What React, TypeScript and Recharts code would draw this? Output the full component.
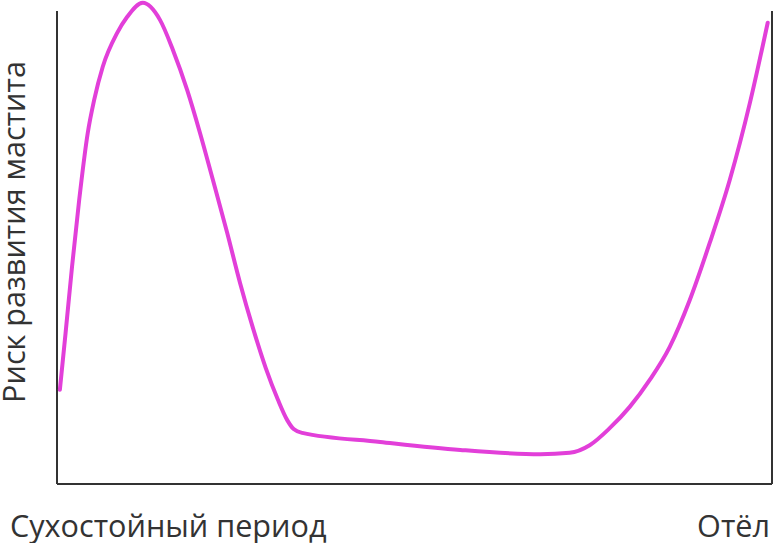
import { Line, LineChart, ReferenceLine, XAxis, YAxis } from 'recharts';

// period position (0 = start of dry period, 100 = calving) vs. relative risk
const periodPos = [
    0.4, 1.2, 2.1, 3.1, 4.3, 5.2, 6.4, 8.4, 9.8, 12.0, 14.4, 16.2, 18.2, 20.0,
    21.8, 23.8, 25.6, 27.4, 29.2, 30.9, 32.2, 33.1, 34.3, 45.2, 56.4, 67.6,
    71.7, 74.5, 77.3, 80.1, 82.9, 85.7, 88.5, 91.3, 94.1, 96.9, 99.4,
];
const riskValues = [
    19.9, 31.9, 45.9, 60.0, 74.2, 81.2, 88.2, 95.3, 98.7, 101.7, 98.1, 91.8,
    83.3, 74.2, 64.3, 53.1, 42.5, 33.0, 24.5, 17.8, 13.5, 11.6, 10.8, 8.9, 7.2,
    6.3, 6.6, 8.2, 11.8, 16.3, 22.0, 29.0, 38.9, 51.0, 64.3, 80.5, 97.5,
];
const xTickLabels = ['Сухостойный период', 'Отёл'];
const yAxisTitle = 'Риск развития мастита';

const data = periodPos.map((pos, i) => ({ pos, risk: riskValues[i] }));

const TEXT = '#333333';
const FONT = '"Open Sans", sans-serif';

function PeriodTick(props: any) {
    const { x, y, index } = props;
    const first = index === 0;
    return (
        <text
            x={first ? x - 47 : x + 9}
            y={y + 53}
            textAnchor={first ? 'start' : 'end'}
            fill={TEXT}
            fontSize={30.6}
            fontFamily={FONT}
        >
            {xTickLabels[index]}
        </text>
    );
}

function RiskTitle(props: any) {
    const { viewBox } = props;
    const cy = viewBox.y + viewBox.height / 2 - 10;
    const cx = 25;
    return (
        <text
            x={cx}
            y={cy}
            transform={`rotate(-90 ${cx} ${cy})`}
            textAnchor="middle"
            fill={TEXT}
            fontSize={30.6}
            fontFamily={FONT}
        >
            {yAxisTitle}
        </text>
    );
}

export default function App() {
    return (
        <div style={{ position: 'absolute', left: 0, top: 0, background: '#fff' }}>
            <LineChart
                width={773}
                height={543}
                data={data}
                margin={{ top: 0, right: 1, left: 0, bottom: 0 }}
            >
                <XAxis
                    dataKey="pos"
                    type="number"
                    domain={[0, 100]}
                    ticks={[0, 100]}
                    height={59}
                    tickLine={false}
                    tickSize={0}
                    tickMargin={0}
                    axisLine={{ stroke: TEXT, strokeWidth: 2 }}
                    tick={<PeriodTick />}
                />
                <YAxis
                    type="number"
                    domain={[0, 102.3]}
                    width={57}
                    tick={false}
                    tickLine={false}
                    axisLine={false}
                    label={<RiskTitle />}
                />
                <ReferenceLine
                    segment={[
                        { x: 0, y: 0 },
                        { x: 0, y: 100 },
                    ]}
                    stroke={TEXT}
                    strokeWidth={2}
                />
                <ReferenceLine
                    segment={[
                        { x: 100, y: 0 },
                        { x: 100, y: 100 },
                    ]}
                    stroke={TEXT}
                    strokeWidth={2}
                />
                <Line
                    type="monotone"
                    dataKey="risk"
                    stroke="#e23fd9"
                    strokeWidth={4}
                    strokeLinecap="round"
                    dot={false}
                    activeDot={false}
                    isAnimationActive={false}
                />
            </LineChart>
        </div>
    );
}
